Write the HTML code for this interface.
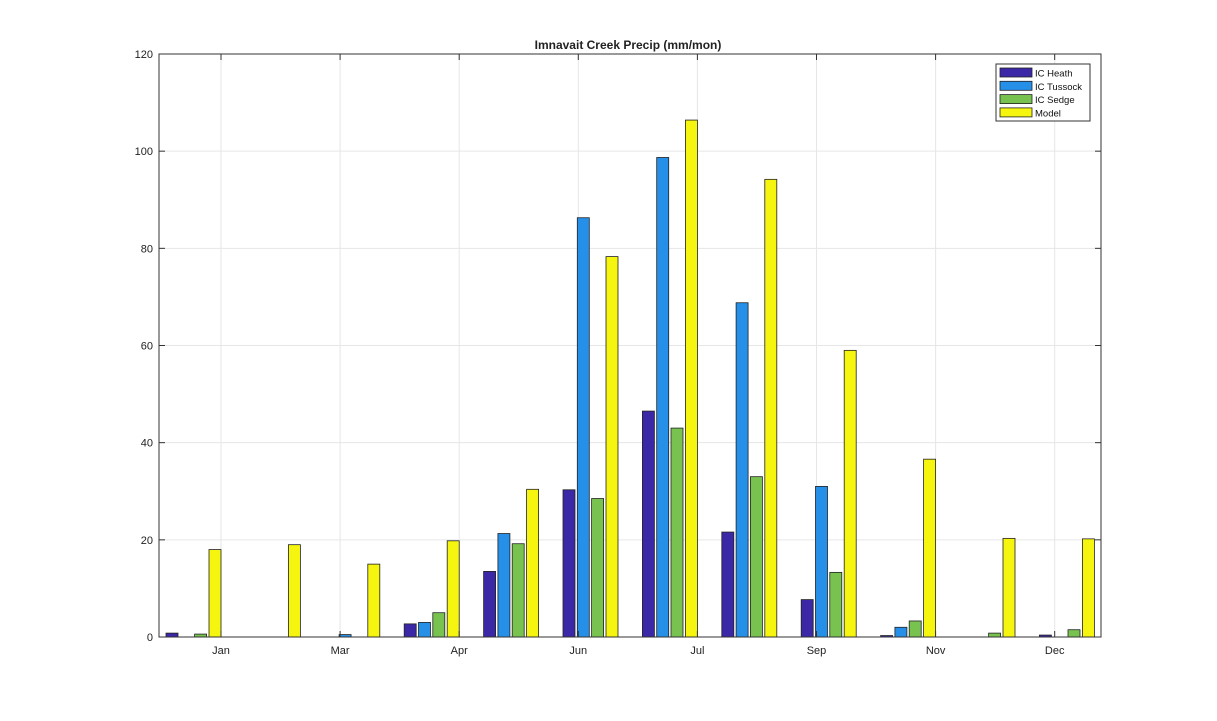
<!DOCTYPE html>
<html><head><meta charset="utf-8"><style>
body{margin:0;background:#fff;font-family:"Liberation Sans",Arial,sans-serif}
</style></head><body>
<svg id="chart" width="1217" height="716" xmlns="http://www.w3.org/2000/svg">
<rect x="0" y="0" width="1217" height="716" fill="#fff"/>
<g id="grid"></g><g id="bars"></g><g id="axes"></g>
<text x="628" y="49" text-anchor="middle" font-size="12" font-weight="bold" fill="#222">Imnavait Creek Precip (mm/mon)</text>
<g id="legend"></g>
</svg>
<script>
const series = ["IC Heath","IC Tussock","IC Sedge","Model"];
const heath   = [0.8,0,0,2.7,13.5,30.3,46.5,21.6,7.7,0.3,0,0.4];
const tussock = [0,0,0.5,3,21.3,86.3,98.7,68.8,31,2,0,0];
const sedge   = [0.6,0,0,5,19.2,28.5,43,33,13.3,3.3,0.8,1.5];
const model   = [18,19,15,19.8,30.4,78.3,106.4,94.2,59,36.6,20.3,20.2];
const tickLabels = ["Jan","Mar","Apr","Jun","Jul","Sep","Nov","Dec"];
const tickPos = [1.34,2.84,4.34,5.84,7.34,8.84,10.34,11.84];
const yTicks = [0,20,40,60,80,100,120];
const colors = ["#3a28a6","#2690e8","#78c350","#f5f50f"];
const all=[heath,tussock,sedge,model];
const L=159,R=1101,T=54,B=637;
const ns="http://www.w3.org/2000/svg";
function y(v){return B-(v/120)*(B-T);}
function x(g){return 194+(g-1)*79.4;}
function mk(p,tag,a){const e=document.createElementNS(ns,tag);for(const k in a)e.setAttribute(k,a[k]);document.getElementById(p).appendChild(e);return e;}
yTicks.forEach(v=>{
 const l=mk("grid","line",{x1:L,x2:R,y1:y(v),y2:y(v),stroke:"#e6e6e6"});
 
 
 const t=mk("axes","text",{x:L-6,y:y(v)+4,"text-anchor":"end","font-size":"11",fill:"#222"});
 t.textContent=v;
 
 
 mk("axes","line",{x1:L,x2:L+6,y1:y(v),y2:y(v),stroke:"#333"});
 mk("axes","line",{x1:R,x2:R-6,y1:y(v),y2:y(v),stroke:"#333"});
});
tickPos.forEach((g,i)=>{
 const l=mk("grid","line",{x1:x(g),x2:x(g),y1:T,y2:B,stroke:"#e6e6e6"});
 
 
 mk("axes","line",{x1:x(g),x2:x(g),y1:B,y2:B-6,stroke:"#333"});
 mk("axes","line",{x1:x(g),x2:x(g),y1:T,y2:T+6,stroke:"#333"});
 const t=mk("axes","text",{x:x(g),y:B+17,"text-anchor":"middle","font-size":"11",fill:"#222"});
 t.textContent=tickLabels[i];
 
 
});
const offs=[-22,-7.7,6.6,21];
all.forEach((s,si)=>{
 s.forEach((v,i)=>{
  const cx=x(i+1)+offs[si];
  const r=mk("bars","rect",{x:cx-6,y:y(v),width:12,height:B-y(v),fill:colors[si],stroke:"#222","stroke-width":"0.8"});
  
  
 });
});
mk("axes","rect",{x:L,y:T,width:R-L,height:B-T,fill:"none",stroke:"#333","stroke-width":"1"});
mk("legend","rect",{x:996,y:64,width:94,height:57,fill:"#fff",stroke:"#333"});
series.forEach((n,i)=>{
 const r=mk("legend","rect",{x:1000,y:68+i*13.3,width:32,height:9,fill:colors[i],stroke:"#222","stroke-width":"0.8"});
 
 
 const t=mk("legend","text",{x:1035,y:76.5+i*13.3,"font-size":"9.5",fill:"#111"});
 t.textContent=n;
 
 
});
</script>
</body></html>
